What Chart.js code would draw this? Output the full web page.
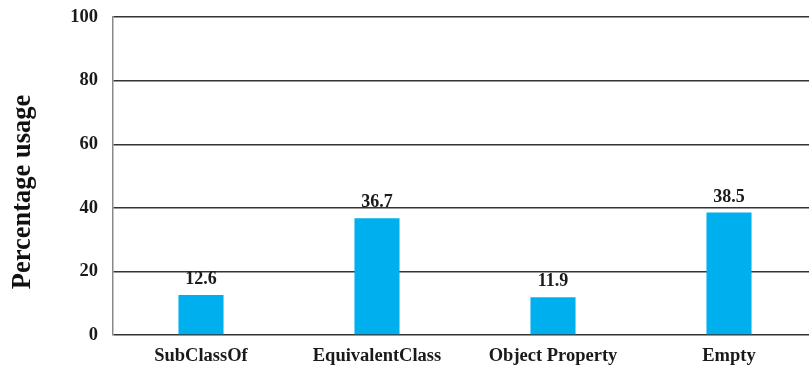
<!DOCTYPE html>
<html>
<head>
<meta charset="utf-8">
<script src="https://cdn.jsdelivr.net/npm/chart.js@4/dist/chart.umd.min.js"></script>
<style>
  html, body { margin: 0; padding: 0; background: #fff; overflow: hidden; }
  #wrap { width: 809px; height: 366px; overflow: hidden; position: relative; }
  #box { width: 817px; height: 375px; position: absolute; left: 0; top: -9px; }
</style>
</head>
<body>
<div id="wrap"><div id="box"><canvas id="c"></canvas></div></div>
<script>
const categories = ['SubClassOf', 'EquivalentClass', 'Object Property', 'Empty'];
const usage = [12.6, 36.7, 11.9, 38.5];
const yTicks = [0, 20, 40, 60, 80, 100];
const yTitle = 'Percentage usage';

const FONT = '"Liberation Serif", "Times New Roman", serif';

// Writes each bar's value just above it
const valueLabels = {
  id: 'valueLabels',
  afterDatasetsDraw(chart) {
    const ctx = chart.ctx;
    const meta = chart.getDatasetMeta(0);
    ctx.save();
    ctx.font = 'bold 18px ' + FONT;
    ctx.fillStyle = '#1a1a1a';
    ctx.textAlign = 'center';
    ctx.textBaseline = 'alphabetic';
    meta.data.forEach((bar, i) => {
      ctx.fillText(usage[i].toFixed(1), bar.x, bar.y - 11);
    });
    ctx.restore();
  }
};

// Rotated y-axis title, sitting a little below the axis midpoint
const sideTitle = {
  id: 'sideTitle',
  afterDraw(chart) {
    const ctx = chart.ctx;
    const area = chart.chartArea;
    ctx.save();
    ctx.translate(23, (area.top + area.bottom) / 2 + 16);
    ctx.rotate(-Math.PI / 2);
    ctx.font = 'bold 26.5px ' + FONT;
    ctx.fillStyle = '#111';
    ctx.textAlign = 'center';
    ctx.textBaseline = 'middle';
    ctx.fillText(yTitle, 0, 0);
    ctx.restore();
  }
};

new Chart(document.getElementById('c'), {
  type: 'bar',
  data: {
    labels: categories,
    datasets: [{
      data: usage,
      backgroundColor: '#00B0EE',
      barPercentage: 0.256,
      categoryPercentage: 1
    }]
  },
  options: {
    responsive: true,
    maintainAspectRatio: false,
    animation: false,
    layout: { padding: 0 },
    plugins: { legend: { display: false }, tooltip: { enabled: false } },
    scales: {
      x: {
        afterFit(axis) { axis.height = 31; },
        grid: { display: false, drawTicks: false },
        border: { display: false },
        ticks: {
          color: '#1a1a1a',
          font: { family: FONT, size: 18.5, weight: 'bold' },
          padding: 10
        }
      },
      y: {
        min: 0,
        max: 100,
        afterFit(axis) { axis.width = 113; },
        afterBuildTicks(axis) { axis.ticks = yTicks.map(v => ({ value: v })); },
        grid: { color: '#333', lineWidth: 1.5, drawTicks: false },
        border: { display: true, color: '#888', width: 1.5 },
        ticks: {
          color: '#1a1a1a',
          font: { family: FONT, size: 18.5, weight: 'bold' },
          padding: 15
        }
      }
    }
  },
  plugins: [valueLabels, sideTitle]
});
</script>
</body>
</html>
